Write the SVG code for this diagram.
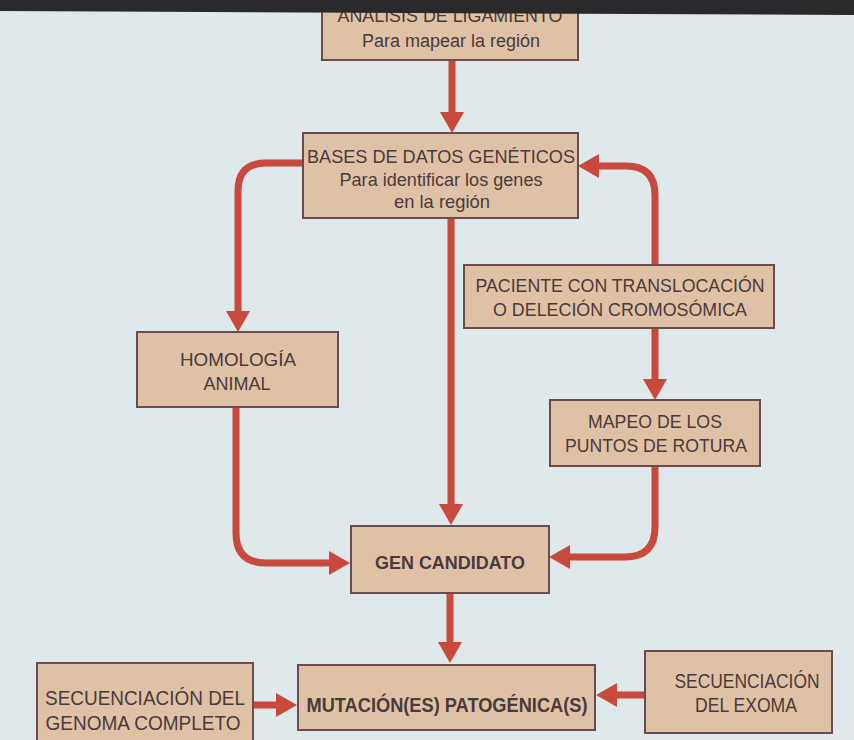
<svg xmlns="http://www.w3.org/2000/svg" width="854" height="740" viewBox="0 0 854 740">
<defs>
<style>
.bg{fill:#dfe8eb}
.box{fill:#dfc2a6;stroke:#6b4c4e;stroke-width:2}
.t{font-family:"Liberation Sans",Arial,sans-serif;fill:#4a3a3c;text-anchor:middle}
.b{font-weight:bold}
.c{fill:none;stroke:#c9493c;stroke-width:7}
</style>
<marker id="ah" markerUnits="userSpaceOnUse" markerWidth="24" markerHeight="26" refX="1" refY="12" orient="auto" overflow="visible">
<path d="M0,0 L21,12 L0,24 z" fill="#c9493c"/>
</marker>
</defs>
<rect class="bg" x="0" y="0" width="854" height="740"/>

<g id="connectors">
<path class="c" marker-end="url(#ah)" d="M452,60 V113"/>
<path class="c" marker-end="url(#ah)" d="M303,163 H266 Q238,163 238,191 V312"/>
<path class="c" marker-end="url(#ah)" d="M236,407 V533 Q236,563 266,563 H330"/>
<path class="c" marker-end="url(#ah)" d="M451,218 V505"/>
<path class="c" marker-end="url(#ah)" d="M655,265 V195 Q655,166 626,166 H598"/>
<path class="c" marker-end="url(#ah)" d="M655,328 V380"/>
<path class="c" marker-end="url(#ah)" d="M655,466 V527 Q655,557 625,557 H569"/>
<path class="c" marker-end="url(#ah)" d="M450,593 V643"/>
<path class="c" marker-end="url(#ah)" d="M253,705 H277"/>
<path class="c" marker-end="url(#ah)" d="M645,695 H616"/>
</g>

<g id="n-ligamiento">
<rect class="box" x="322" y="-6" width="256" height="66"/>
<text class="t" x="450" y="22" font-size="18" textLength="225" lengthAdjust="spacingAndGlyphs">ANÁLISIS DE LIGAMIENTO</text>
<text class="t" x="451" y="47" font-size="18" textLength="178" lengthAdjust="spacingAndGlyphs">Para mapear la región</text>
</g>

<g id="n-bases">
<rect class="box" x="303" y="133" width="275" height="85"/>
<text class="t" x="441" y="163" font-size="19" textLength="268" lengthAdjust="spacingAndGlyphs">BASES DE DATOS GENÉTICOS</text>
<text class="t" x="441" y="186" font-size="19" textLength="203" lengthAdjust="spacingAndGlyphs">Para identificar los genes</text>
<text class="t" x="442" y="208" font-size="19" textLength="96" lengthAdjust="spacingAndGlyphs">en la región</text>
</g>

<g id="n-homologia">
<rect class="box" x="137" y="332" width="201" height="75"/>
<text class="t" x="238" y="366" font-size="19" textLength="116" lengthAdjust="spacingAndGlyphs">HOMOLOGÍA</text>
<text class="t" x="237" y="390" font-size="19" textLength="67" lengthAdjust="spacingAndGlyphs">ANIMAL</text>
</g>

<g id="n-paciente">
<rect class="box" x="464" y="265" width="310" height="63"/>
<text class="t" x="620" y="292" font-size="19" textLength="289" lengthAdjust="spacingAndGlyphs">PACIENTE CON TRANSLOCACIÓN</text>
<text class="t" x="620" y="316" font-size="19" textLength="254" lengthAdjust="spacingAndGlyphs">O DELECIÓN CROMOSÓMICA</text>
</g>

<g id="n-mapeo">
<rect class="box" x="550" y="400" width="210" height="66"/>
<text class="t" x="655" y="428" font-size="19" textLength="134" lengthAdjust="spacingAndGlyphs">MAPEO DE LOS</text>
<text class="t" x="656" y="452" font-size="19" textLength="182" lengthAdjust="spacingAndGlyphs">PUNTOS DE ROTURA</text>
</g>

<g id="n-gen">
<rect class="box" x="351" y="526" width="198" height="67"/>
<text class="t b" x="450" y="569" font-size="19" textLength="150" lengthAdjust="spacingAndGlyphs">GEN CANDIDATO</text>
</g>

<g id="n-genoma">
<rect class="box" x="37" y="663" width="216" height="90"/>
<text class="t" x="145" y="705" font-size="21" textLength="200" lengthAdjust="spacingAndGlyphs">SECUENCIACIÓN DEL</text>
<text class="t" x="143" y="730" font-size="21" textLength="195" lengthAdjust="spacingAndGlyphs">GENOMA COMPLETO</text>
</g>

<g id="n-mutacion">
<rect class="box" x="298" y="665" width="297" height="65"/>
<text class="t b" x="447" y="712" font-size="20" textLength="281" lengthAdjust="spacingAndGlyphs">MUTACIÓN(ES) PATOGÉNICA(S)</text>
</g>

<g id="n-exoma">
<rect class="box" x="645" y="651" width="187" height="82"/>
<text class="t" x="747" y="688" font-size="20" textLength="145" lengthAdjust="spacingAndGlyphs">SECUENCIACIÓN</text>
<text class="t" x="746" y="712" font-size="20" textLength="102" lengthAdjust="spacingAndGlyphs">DEL EXOMA</text>
</g>

<polygon points="0,0 854,0 854,15 0,11" fill="#2a2a2c"/>
</svg>
